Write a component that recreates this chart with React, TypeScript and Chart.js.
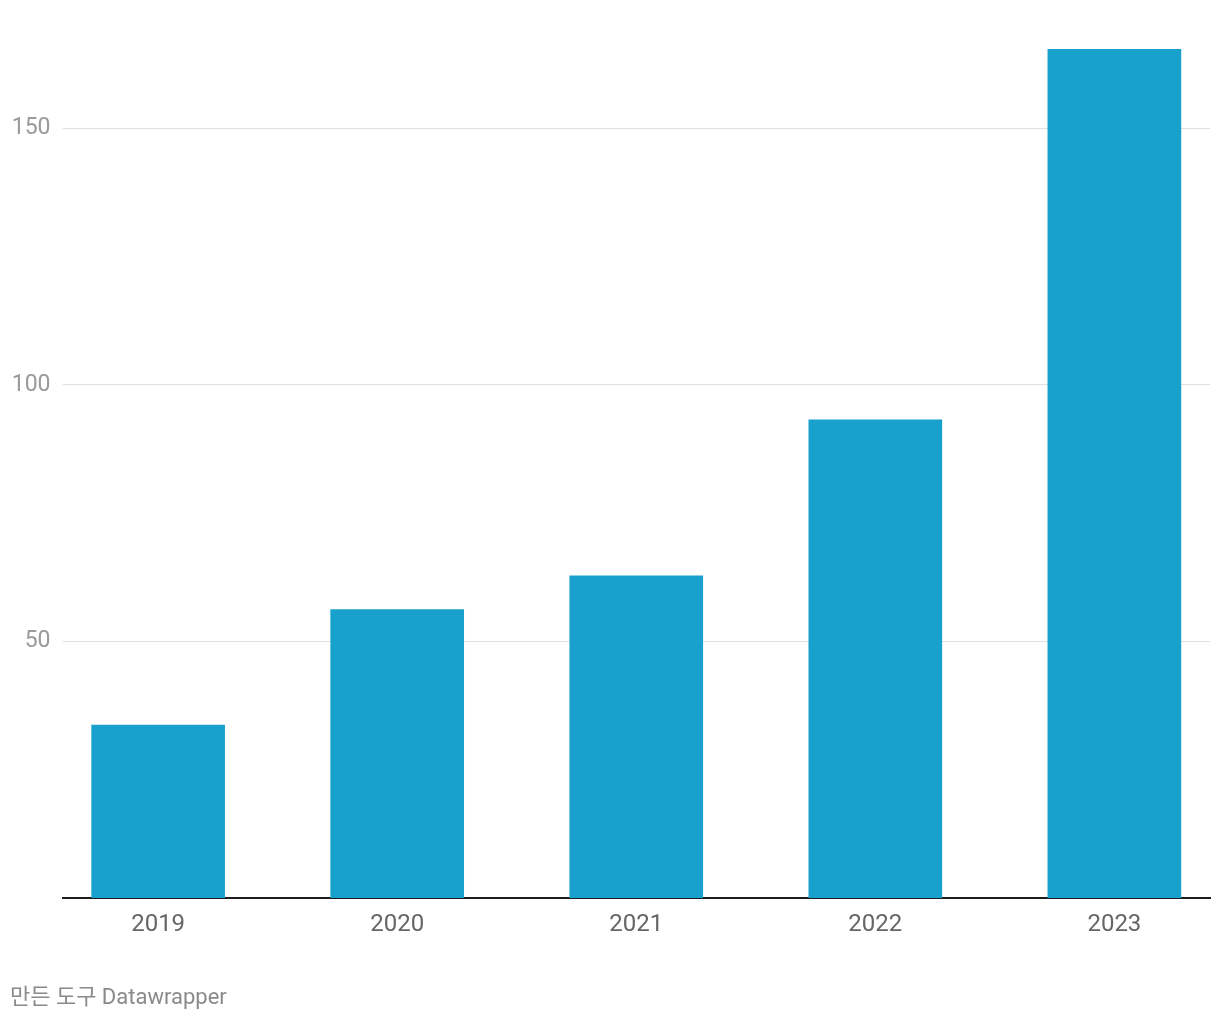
import React, { useEffect, useRef } from "react";
import { Chart, registerables } from "chart.js";

Chart.register(...registerables);

const categories = ["2019", "2020", "2021", "2022", "2023"];
const values = [33.7, 56.2, 62.8, 93.2, 165.4];
const yTicks = [50, 100, 150];
const footerText = "만든 도구 Datawrapper";

export default function App() {
  const ref = useRef<HTMLCanvasElement | null>(null);

  useEffect(() => {
    if (!ref.current) return;
    const chart = new Chart(ref.current, {
      type: "bar",
      data: {
        datasets: [
          {
            data: values.map((v, i) => ({ x: i, y: v })),
            backgroundColor: "#18a1cd",
            barThickness: 133,
            borderWidth: 0,
          },
        ],
      },
      options: {
        animation: false,
        responsive: false,
        layout: { padding: { top: 23, right: 10, left: 0, bottom: 0 } },
        plugins: { legend: { display: false }, tooltip: { enabled: false } },
        scales: {
          x: {
            type: "linear",
            min: -0.4,
            max: 4.4,
            offset: false,
            afterBuildTicks: (axis: any) => {
              axis.ticks = categories.map((_, i) => ({ value: i }));
            },
            afterFit: (axis: any) => {
              axis.height = 122;
            },
            grid: { display: false, drawTicks: false },
            border: { display: true, color: "#1d1d1d", width: 2 },
            ticks: {
              autoSkip: false,
              maxRotation: 0,
              padding: 13,
              color: "#666666",
              font: { family: "Roboto", size: 24 },
              callback: (v: any) => categories[v as number] ?? "",
            },
          },
          y: {
            min: 0,
            max: 170,
            afterBuildTicks: (axis: any) => {
              axis.ticks = yTicks.map((v) => ({ value: v }));
            },
            afterFit: (axis: any) => {
              axis.width = 62.5;
            },
            grid: { color: "#e0e0e0", lineWidth: 1, drawTicks: false },
            border: { display: false },
            ticks: {
              padding: 12,
              color: "#9a9a9a",
              font: { family: "Roboto", size: 23 },
            },
          },
        },
      },
    });
    return () => chart.destroy();
  }, []);

  return (
    <div style={{ position: "absolute", left: 0, top: 0, width: 1220, height: 1020, background: "#fff" }}>
      <canvas ref={ref} width={1220} height={1020} style={{ display: "block" }} />
      <div
        style={{
          position: "absolute",
          left: 10,
          top: 982,
          fontFamily: "Roboto, 'Noto Sans CJK KR', sans-serif",
          fontSize: 22,
          color: "#8a8a8a",
          lineHeight: "30px",
          whiteSpace: "nowrap",
        }}
      >
        {footerText}
      </div>
    </div>
  );
}
